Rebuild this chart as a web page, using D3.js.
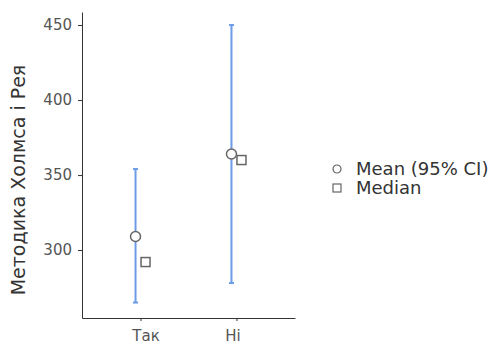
<!DOCTYPE html>
<html>
<head>
    <meta http-equiv="content-type" content="text/html; charset=utf-8" />
    <style>
        body { margin: 0; background: #fff; }
        text { font-family: "DejaVu Sans", Verdana, sans-serif; }
    </style>
</head>
<body>
    <svg id="chart" width="494" height="347"></svg>

    <script src="https://d3js.org/d3.v7.min.js"></script>
    <script>
        const categories = ['Так', 'Ні']
        const means = [309, 364]
        const ciLow = [265, 278]
        const ciHigh = [354, 450]
        const medians = [292, 360]
        const yTicks = [300, 350, 400, 450]

        const svg = d3.select('#chart')

        const x = d3.scalePoint()
            .domain(categories)
            .range([82, 295])
            .padding(0.61)

        const y = d3.scaleLinear()
            .domain([254.7, 458.7])
            .range([318, 12])

        const grey = '#333'

        // y axis
        const yAxis = svg.append('g')
            .attr('transform', 'translate(82,0)')
            .call(d3.axisLeft(y).tickValues(yTicks).tickSize(4).tickSizeOuter(0).tickPadding(6))
        yAxis.select('.domain').attr('stroke', grey)
        yAxis.selectAll('.tick line').attr('stroke', grey)
        yAxis.selectAll('.tick text').attr('fill', '#555').style('font-size', '15px')

        // x axis
        const xAxis = svg.append('g')
            .attr('transform', 'translate(0,318)')
            .call(d3.axisBottom(x).tickSize(3).tickSizeOuter(0).tickPadding(9))
        xAxis.select('.domain').attr('stroke', grey)
        xAxis.selectAll('.tick line').attr('stroke', grey)
        xAxis.selectAll('.tick text')
            .attr('fill', '#555')
            .style('font-size', '15px')
            .attr('dx', (d, i) => i == 0 ? 5 : -4)

        // y title
        svg.append('text')
            .attr('transform', 'translate(25,180) rotate(-90)')
            .attr('text-anchor', 'middle')
            .attr('fill', '#333')
            .style('font-size', '19px')
            .text('Методика Холмса і Рея')

        const dodge = 5
        const blue = '#6c9be8'

        const groups = svg.append('g').selectAll('g')
            .data(categories)
            .join('g')

        // CI bars
        groups.append('line')
            .attr('x1', d => x(d) - dodge)
            .attr('x2', d => x(d) - dodge)
            .attr('y1', (d, i) => y(ciLow[i]))
            .attr('y2', (d, i) => y(ciHigh[i]))
            .attr('stroke', blue)
            .attr('stroke-width', 2)
        ;[ciLow, ciHigh].forEach(arr => {
            groups.append('line')
                .attr('x1', d => x(d) - dodge - 2.5)
                .attr('x2', d => x(d) - dodge + 2.5)
                .attr('y1', (d, i) => y(arr[i]))
                .attr('y2', (d, i) => y(arr[i]))
                .attr('stroke', blue)
                .attr('stroke-width', 2)
        })

        // medians
        groups.append('rect')
            .attr('x', d => x(d) + dodge - 4.5)
            .attr('y', (d, i) => y(medians[i]) - 4.5)
            .attr('width', 9)
            .attr('height', 9)
            .attr('fill', '#fff')
            .attr('stroke', '#666')
            .attr('stroke-width', 1.5)

        // means
        groups.append('circle')
            .attr('cx', d => x(d) - dodge)
            .attr('cy', (d, i) => y(means[i]))
            .attr('r', 5)
            .attr('fill', '#fff')
            .attr('stroke', '#666')
            .attr('stroke-width', 1.5)

        // legend
        const legend = svg.append('g').attr('transform', 'translate(337,169)')
        legend.append('circle')
            .attr('r', 4).attr('fill', '#fff').attr('stroke', '#666').attr('stroke-width', 1.2)
        legend.append('text')
            .attr('x', 19).attr('y', 6)
            .attr('fill', '#333').style('font-size', '18px')
            .text('Mean (95% CI)')
        legend.append('rect')
            .attr('x', -4).attr('y', 15).attr('width', 8).attr('height', 8)
            .attr('fill', '#fff').attr('stroke', '#666').attr('stroke-width', 1.2)
        legend.append('text')
            .attr('x', 19).attr('y', 25)
            .attr('fill', '#333').style('font-size', '18px')
            .text('Median')
    </script>
</body>
</html>
